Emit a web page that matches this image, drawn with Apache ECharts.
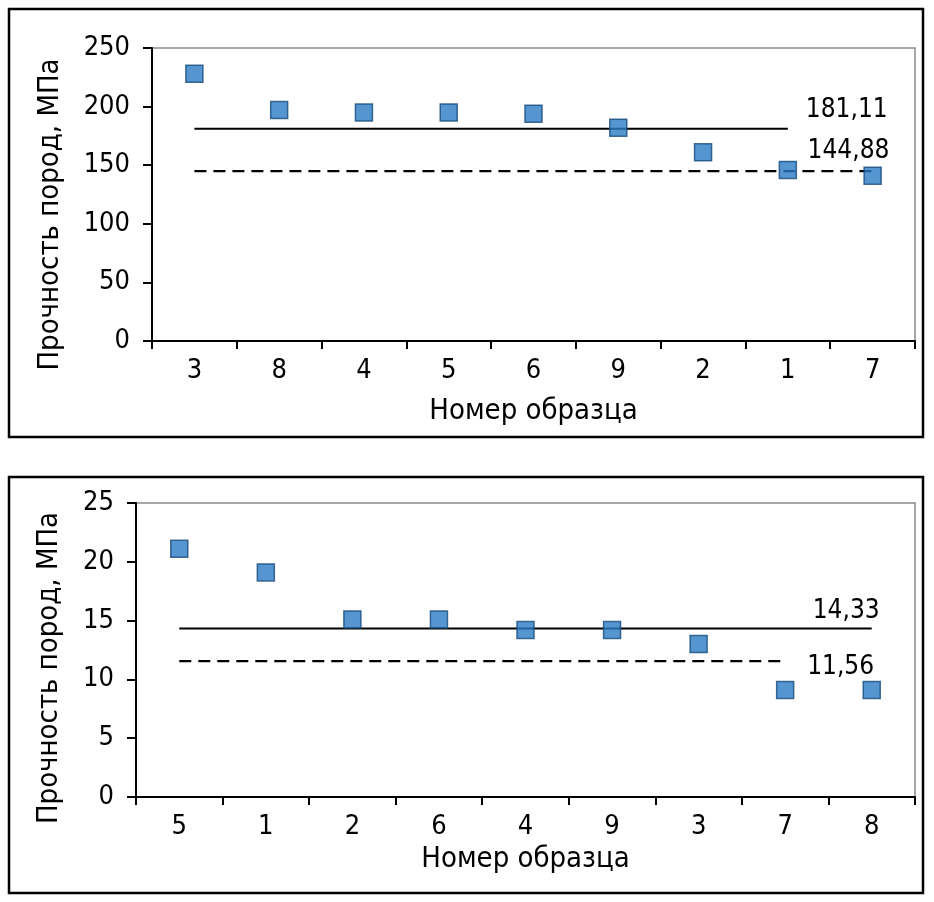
<!DOCTYPE html>
<html>
<head>
<meta charset="utf-8">
<script src="https://cdn.jsdelivr.net/npm/echarts@6/dist/echarts.min.js"></script>
<style>html,body{margin:0;padding:0;background:#fff}#c{width:934px;height:902px}</style>
</head>
<body>
<div id="c"></div>
<script>
// Top chart
const topCategories = ['3','8','4','5','6','9','2','1','7'];
const topValues = [228, 197, 195, 195, 194, 182, 161, 146, 141];
const topSolid = [['3', 181.11], ['1', 181.11]];
const topDashed = [['3', 144.88], ['7', 144.88]];
const topYTicks = {min: 0, max: 250, interval: 50};

// Bottom chart
const botCategories = ['5','1','2','6','4','9','3','7','8'];
const botValues = [21.1, 19.1, 15.1, 15.1, 14.2, 14.2, 13.0, 9.1, 9.1];
const botSolid = [['5', 14.33], ['8', 14.33]];
const botDashed = [['5', 11.56], ['7', 11.56]];
const botYTicks = {min: 0, max: 25, interval: 5};

const yName = 'Прочность пород, МПа';
const xName = 'Номер образца';

const FONT = '"Liberation Sans Narrow", "DejaVu Sans Condensed", sans-serif';
const markerStyle = {color: '#2a7cc6', borderColor: '#174a7c', borderWidth: 1.5};

function fmt(v){ return String(v.toFixed(2)).replace('.', ','); }

function xAxis(gridIndex, cats, gap){
  return {
    type: 'category', gridIndex, data: cats, boundaryGap: true,
    axisLine: {show: true, lineStyle: {color: '#000', width: 2}},
    axisTick: {show: true, inside: false, length: 8, lineStyle: {color: '#000', width: 2}, alignWithLabel: false},
    axisLabel: {fontFamily: FONT, fontSize: 27, color: '#000', margin: 16},
    splitLine: {show: false},
    name: xName, nameLocation: 'middle', nameGap: gap,
    nameTextStyle: {fontFamily: FONT, fontSize: 29, color: '#000'}
  };
}
function yAxis(gridIndex, t, gap, pad){
  return {
    type: 'value', gridIndex, min: t.min, max: t.max, interval: t.interval,
    axisLine: {show: true, lineStyle: {color: '#000', width: 2}},
    axisTick: {show: true, inside: false, length: 9, lineStyle: {color: '#000', width: 2}},
    axisLabel: {fontFamily: FONT, fontSize: 27, color: '#000', margin: 22},
    splitLine: {show: false},
    name: yName, nameLocation: 'middle', nameGap: gap, nameRotate: 90,
    nameTextStyle: {fontFamily: FONT, fontSize: 29, color: '#000', padding: pad}
  };
}
function refLine(idx, data, type, label, labelOffset){
  return {
    type: 'line', xAxisIndex: idx, yAxisIndex: idx, data: data,
    symbol: 'none', silent: true, z: 1,
    lineStyle: {color: '#000', width: 2.2, type: type === 'dashed' ? [12, 7] : 'solid'},
    label: {show: false},
    endLabel: {show: true, formatter: () => label, fontFamily: FONT, fontSize: 26, color: '#000',
      offset: labelOffset, distance: 0}
  };
}

const chart = echarts.init(document.getElementById('c'), null, {renderer: 'canvas'});
chart.setOption({
  backgroundColor: '#fff',
  animation: false,
  graphic: [
    {type: 'rect', shape: {x: 9, y: 9, width: 914, height: 428}, style: {fill: 'none', stroke: '#000', lineWidth: 2.5}, z: -1},
    {type: 'rect', shape: {x: 9, y: 477, width: 914, height: 416}, style: {fill: 'none', stroke: '#000', lineWidth: 2.5}, z: -1}
  ],
  grid: [
    {left: 152, top: 48, width: 763, height: 293, show: true, borderColor: '#8a8a8a', borderWidth: 1.5, backgroundColor: 'transparent'},
    {left: 136, top: 503, width: 779, height: 294, show: true, borderColor: '#8a8a8a', borderWidth: 1.5, backgroundColor: 'transparent'}
  ],
  xAxis: [xAxis(0, topCategories, 56), xAxis(1, botCategories, 48)],
  yAxis: [yAxis(0, topYTicks, 87, [0, 40, 0, 0]), yAxis(1, botYTicks, 72, [0, 36, 0, 0])],
  series: [
    refLine(0, topSolid, 'solid', fmt(181.11), [18, -18]),
    refLine(0, topDashed, 'dashed', fmt(144.88), [-65, -20]),
    {type: 'scatter', xAxisIndex: 0, yAxisIndex: 0, data: topValues, symbol: 'rect', symbolSize: 17, itemStyle: markerStyle, z: 3},
    refLine(1, botSolid, 'solid', fmt(14.33), [-59, -17]),
    refLine(1, botDashed, 'dashed', fmt(11.56), [22, 6]),
    {type: 'scatter', xAxisIndex: 1, yAxisIndex: 1, data: botValues, symbol: 'rect', symbolSize: 17, itemStyle: markerStyle, z: 3}
  ]
});
</script>
</body>
</html>
